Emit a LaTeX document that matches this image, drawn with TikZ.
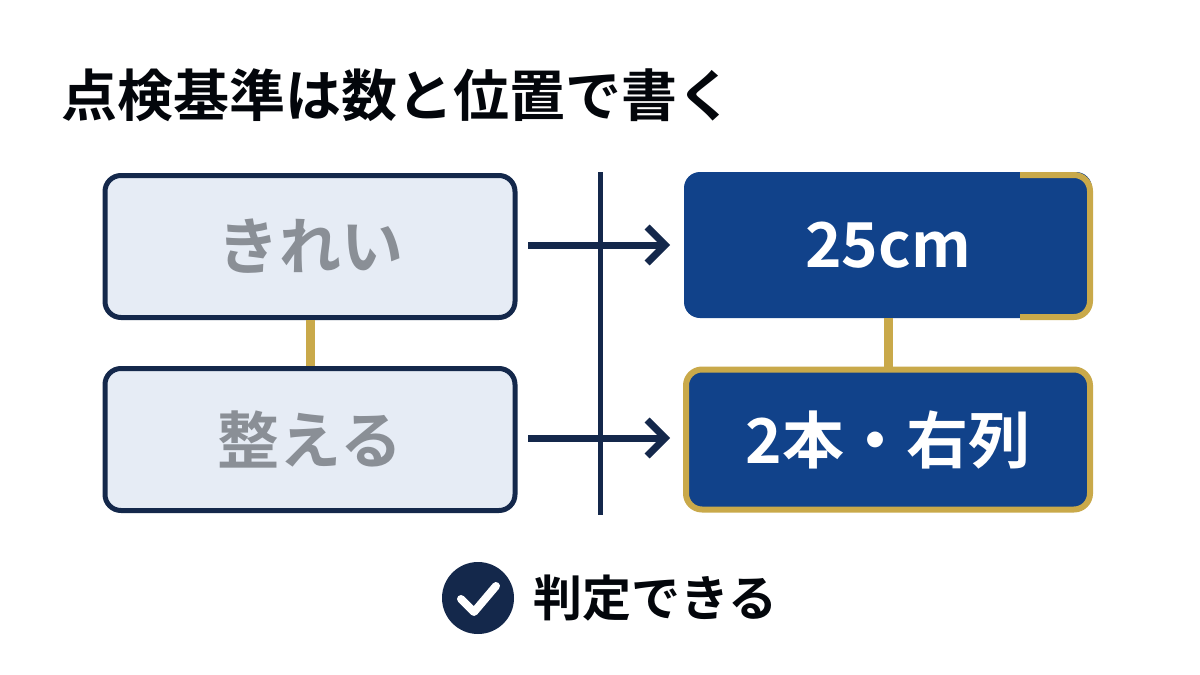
\documentclass[tikz,border=0pt]{standalone}
\usepackage{fontspec}
\setmainfont{Noto Sans CJK JP}[BoldFont={* Bold}]
\usetikzlibrary{arrows.meta}
\definecolor{navy}{HTML}{14284B}
\definecolor{blue}{HTML}{11428A}
\definecolor{gold}{HTML}{C9A94A}
\definecolor{pale}{HTML}{E6ECF5}
\definecolor{greyt}{HTML}{8A8F96}
\begin{document}
\begin{tikzpicture}[x=1pt,y=-1pt,
  lbox/.style={draw=navy,line width=5pt,fill=pale,rounded corners=16pt,minimum width=410pt,minimum height=142pt,text=greyt,font=\bfseries\fontsize{62}{62}\selectfont},
  rbox/.style={fill=blue,rounded corners=16pt,minimum width=408pt,minimum height=146pt,text=white,font=\bfseries\fontsize{62}{62}\selectfont},
  arr/.style={draw=navy,line width=7pt,-{Straight Barb[length=18pt,width=36pt,line width=7pt]}},
  goldl/.style={draw=gold,line width=9pt}]
\useasboundingbox[fill=white] (0,0) rectangle (1200,675);
\node[anchor=west,font=\bfseries\fontsize{56}{56}\selectfont,text=black!85!navy] (title) at (58,95) {点検基準は数と位置で書く};
\node[lbox] (a) at (310,246.5) {きれい};
\node[lbox] (b) at (310,439.5) {整える};
\draw[goldl] (a.south) -- (b.north);
\node[rbox] (c) at (888,245) {25cm};
\draw[gold,line width=6pt,rounded corners=16pt] (1020,175) -- (1090,175) -- (1090,317) -- (1020,317);
\node[rbox,draw=gold,line width=6pt,minimum width=404pt,minimum height=140pt] (d) at (888,439.5) {2本・右列};
\draw[goldl] (c.south) -- (d.north);
\coordinate (vt) at (600,172); \coordinate (vb) at (600,515);
\draw[navy,line width=5pt] (vt) -- (vb);
\coordinate (a1) at (528,245); \coordinate (a2) at (670,245);
\coordinate (b1) at (528,438); \coordinate (b2) at (670,438);
\draw[arr] (a1) -- (a2);
\draw[arr] (b1) -- (b2);
\node[circle,fill=navy,minimum size=72pt] (chk) at (478,598) {};
\draw[white,line width=8pt,line cap=round,line join=round] ([shift={(-17,1)}]chk.center) -- ([shift={(-4,14)}]chk.center) -- ([shift={(18,-12)}]chk.center);
\node[anchor=west,font=\bfseries\fontsize{49}{49}\selectfont,text=black!85!navy] (ok) at (530,598) {判定できる};
\end{tikzpicture}
\end{document}
